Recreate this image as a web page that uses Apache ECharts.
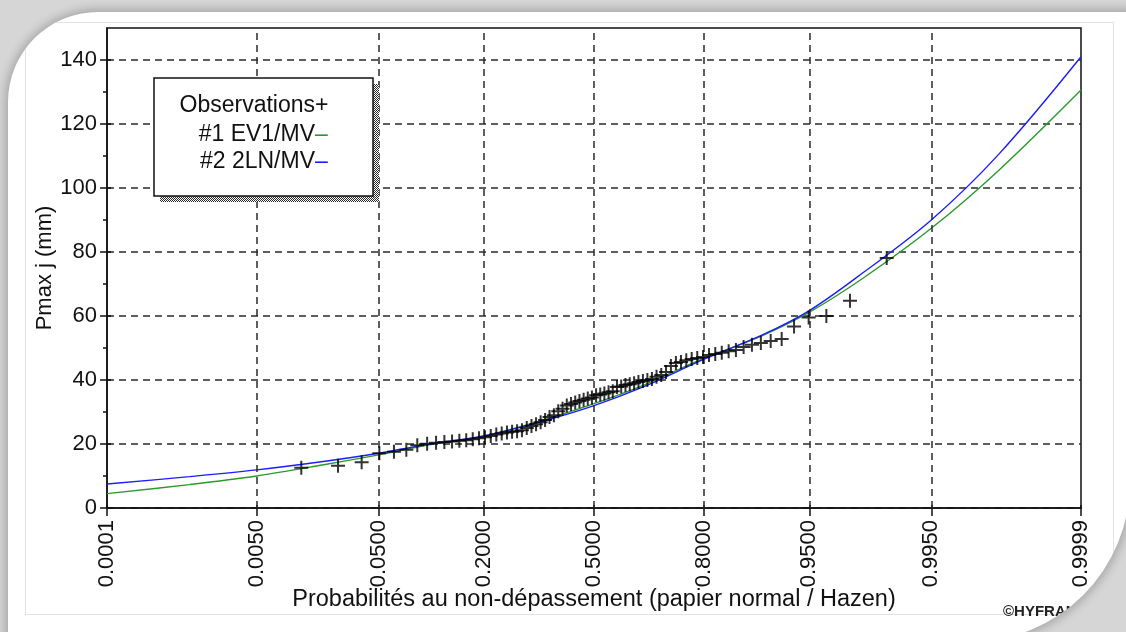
<!DOCTYPE html>
<html>
<head>
<meta charset="utf-8">
<script src="https://cdn.jsdelivr.net/npm/echarts@6/dist/echarts.min.js"></script>
<style>
  html, body { margin: 0; padding: 0; width: 1126px; height: 632px; overflow: hidden; background: #d6d6d6; }
  #card { position: absolute; left: 8px; top: 12px; width: 1122px; height: 630px; background: #fff;
          border-radius: 90px 0 160px 0; box-shadow: 0 0 10px 3px rgba(0,0,0,0.22); overflow: hidden; }
  #frame { position: absolute; left: 17px; top: 10px; width: 1087px; height: 591px; border: 1px solid #e2e2e2; }
  #chart { position: absolute; left: -8px; top: -12px; width: 1126px; height: 632px; }
</style>
</head>
<body>
<div id="card"><div id="frame"></div><div id="chart"></div></div>
<script>
// Probability ticks on the normal-paper axis
const tickProbs = [0.0001, 0.005, 0.05, 0.2, 0.5, 0.8, 0.95, 0.995, 0.9999];
const yTicks = [0, 20, 40, 60, 80, 100, 120, 140];
const yMinorTicks = [10, 30, 50, 70, 90, 110, 130];

// Observed annual maxima (mm), sorted, with their non-exceedance frequencies
const obsFreq = [
  0.0127, 0.0253, 0.0380, 0.0506, 0.0633, 0.0759, 0.0886, 0.1013, 0.1139, 0.1266,
  0.1392, 0.1519, 0.1646, 0.1772, 0.1899, 0.2025, 0.2152, 0.2278, 0.2405, 0.2532,
  0.2658, 0.2785, 0.2911, 0.3038, 0.3165, 0.3291, 0.3418, 0.3544, 0.3671, 0.3797,
  0.3924, 0.4051, 0.4177, 0.4304, 0.4430, 0.4557, 0.4684, 0.4810, 0.4937, 0.5063,
  0.5190, 0.5316, 0.5443, 0.5570, 0.5696, 0.5823, 0.5949, 0.6076, 0.6203, 0.6329,
  0.6456, 0.6582, 0.6709, 0.6835, 0.6962, 0.7089, 0.7215, 0.7342, 0.7468, 0.7595,
  0.7722, 0.7848, 0.7975, 0.8101, 0.8228, 0.8354, 0.8481, 0.8608, 0.8734, 0.8861,
  0.8987, 0.9114, 0.9241, 0.9367, 0.9494, 0.9620, 0.9747, 0.9873
];
const obsPmax = [
  12.6, 13.2, 14.3, 17.1, 17.6, 18.2, 19.6, 20.1, 20.4, 20.6,
  20.8, 21.0, 21.2, 21.5, 21.8, 22.1, 22.5, 23.0, 23.3, 23.6,
  23.8, 24.0, 24.3, 25.0, 25.6, 26.2, 26.8, 27.5, 28.4, 29.0,
  30.2, 31.0, 32.0, 32.5, 33.0, 33.4, 33.8, 34.2, 34.5, 35.2,
  35.5, 35.8, 36.2, 36.5, 37.8, 38.0, 38.4, 38.7, 39.0, 39.4,
  39.7, 40.0, 40.3, 41.0, 41.6, 42.5, 44.4, 45.3, 45.6, 46.2,
  46.6, 46.9, 47.2, 47.8, 48.1, 48.5, 49.0, 49.4, 50.3, 51.0,
  51.6, 52.2, 52.8, 56.7, 59.5, 60.0, 64.8, 78.1
];

// Fitted quantile curves
const curveFreq = [0.0001, 0.001, 0.005, 0.02, 0.05, 0.1, 0.2, 0.35, 0.5, 0.65, 0.8, 0.9, 0.95, 0.98, 0.995, 0.999, 0.9999];
const ev1Mv  = [4.5, 7.3, 10.0, 13.6, 16.6, 19.6, 22.5, 27.5, 32.6, 38.5, 46.8, 53.8, 61.2, 71.8, 87.4, 105.5, 130.6];
const ln2Mv  = [7.5, 9.8, 11.9, 14.6, 17.1, 19.8, 22.5, 27.2, 32.0, 38.0, 46.5, 54.0, 61.7, 73.5, 90.0, 110.5, 141.0];

// Inverse of the standard normal CDF (Acklam), used for the normal-paper abscissa
function probit(p) {
  const a = [-3.969683028665376e+01, 2.209460984245205e+02, -2.759285104469687e+02, 1.383577518672690e+02, -3.066479806614716e+01, 2.506628277459239e+00];
  const b = [-5.447609879822406e+01, 1.615858368580409e+02, -1.556989798598866e+02, 6.680131188771972e+01, -1.328068155288572e+01];
  const c = [-7.784894002430293e-03, -3.223964580411365e-01, -2.400758277161838e+00, -2.549732539343734e+00, 4.374664141464968e+00, 2.938163982698783e+00];
  const d = [7.784695709041462e-03, 3.224671290700398e-01, 2.445134137142996e+00, 3.754408661907416e+00];
  const pl = 0.02425, ph = 1 - pl;
  let q, r;
  if (p < pl) {
    q = Math.sqrt(-2 * Math.log(p));
    return (((((c[0]*q+c[1])*q+c[2])*q+c[3])*q+c[4])*q+c[5]) / ((((d[0]*q+d[1])*q+d[2])*q+d[3])*q+1);
  }
  if (p > ph) {
    q = Math.sqrt(-2 * Math.log(1 - p));
    return -(((((c[0]*q+c[1])*q+c[2])*q+c[3])*q+c[4])*q+c[5]) / ((((d[0]*q+d[1])*q+d[2])*q+d[3])*q+1);
  }
  q = p - 0.5; r = q * q;
  return (((((a[0]*r+a[1])*r+a[2])*r+a[3])*r+a[4])*r+a[5])*q / (((((b[0]*r+b[1])*r+b[2])*r+b[3])*r+b[4])*r+1);
}

const FONT = "'Liberation Sans', Arial, sans-serif";
const tickZ = tickProbs.map(probit);
const zMin = tickZ[0], zMax = tickZ[tickZ.length - 1];
const innerTickZ = tickZ.slice(1, -1);

function probLabel(v) {
  for (let i = 0; i < tickZ.length; i++) {
    if (Math.abs(tickZ[i] - v) < 1e-6) return tickProbs[i].toFixed(4);
  }
  return '';
}

// Dithered shadow for the legend box
const dither = document.createElement('canvas');
dither.width = 2; dither.height = 2;
const dctx = dither.getContext('2d');
dctx.fillStyle = '#ffffff'; dctx.fillRect(0, 0, 2, 2);
dctx.fillStyle = '#2a2a2a'; dctx.fillRect(0, 0, 1, 1); dctx.fillRect(1, 1, 1, 1);

const plusPath = 'path://M0,12H28V16H0Z M12,0H16V28H12Z';
const gridDash = { color: '#2a2a2a', width: 1.5, type: [7, 5] };
const tickStyle = { color: '#111', width: 1.5 };

const chart = echarts.init(document.getElementById('chart'), null, { renderer: 'canvas' });
chart.setOption({
  animation: false,
  backgroundColor: 'transparent',
  textStyle: { fontFamily: FONT },
  grid: {
    left: 107, right: 45, top: 28, bottom: 124, containLabel: false,
    show: true, borderColor: '#111', borderWidth: 1.5, backgroundColor: 'transparent'
  },
  xAxis: [
    {
      type: 'value', min: zMin, max: zMax, position: 'bottom',
      name: 'Probabilités au non-dépassement (papier normal / Hazen)',
      nameLocation: 'middle', nameGap: 80, nameMoveOverlap: false,
      nameTextStyle: { fontSize: 23.5, color: '#111', fontFamily: FONT },
      axisLine: { show: true, onZero: false, lineStyle: tickStyle },
      axisTick: { show: true, customValues: tickZ, length: 8, lineStyle: tickStyle },
      axisLabel: {
        customValues: tickZ, rotate: 90, margin: 12, fontSize: 22, color: '#111', fontFamily: FONT,
        formatter: probLabel, showMinLabel: true, showMaxLabel: true
      },
      splitLine: { show: false }
    },
    {
      type: 'value', min: zMin, max: zMax, position: 'bottom',
      axisLine: { show: false, onZero: false },
      axisTick: { show: true, inside: true, customValues: tickZ, length: 3, lineStyle: tickStyle },
      axisLabel: { show: false },
      splitLine: { show: false }
    }
  ],
  yAxis: [
    {
      type: 'value', min: 0, max: 150, interval: 20, position: 'left',
      name: 'Pmax j (mm)', nameLocation: 'middle', nameGap: 51, nameRotate: 90, nameMoveOverlap: false,
      nameTextStyle: { fontSize: 22, color: '#111', fontFamily: FONT },
      axisLine: { show: true, onZero: false, lineStyle: tickStyle },
      axisTick: { show: true, customValues: yTicks, length: 7, lineStyle: tickStyle },
      axisLabel: { customValues: yTicks, margin: 10, fontSize: 22, color: '#111', fontFamily: FONT },
      splitLine: { show: true, lineStyle: gridDash }
    },
    {
      type: 'value', min: 0, max: 150, interval: 10, position: 'left',
      axisLine: { show: false, onZero: false },
      axisTick: { show: true, customValues: yMinorTicks, length: 4, lineStyle: tickStyle },
      axisLabel: { show: false },
      splitLine: { show: false }
    },
    {
      type: 'value', min: 0, max: 150, interval: 20, position: 'left',
      axisLine: { show: false, onZero: false },
      axisTick: { show: true, inside: true, customValues: yTicks, length: 4, lineStyle: tickStyle },
      axisLabel: { show: false },
      splitLine: { show: false }
    }
  ],
  graphic: [
    { type: 'rect', shape: { x: 160, y: 84, width: 219, height: 118 }, style: { fill: { image: dither, repeat: 'repeat' } }, z: 20 },
    { type: 'rect', shape: { x: 154, y: 78, width: 219, height: 118 }, style: { fill: '#fff', stroke: '#111', lineWidth: 1.5 }, z: 21 },
    { type: 'text', x: 315, y: 106, style: { text: 'Observations', font: '23px ' + FONT, fill: '#111', align: 'right', verticalAlign: 'middle' }, z: 22 },
    { type: 'text', x: 315, y: 106, style: { text: '+', font: '23px ' + FONT, fill: '#111', align: 'left', verticalAlign: 'middle' }, z: 22 },
    { type: 'text', x: 315, y: 135, style: { text: '#1 EV1/MV', font: '23px ' + FONT, fill: '#111', align: 'right', verticalAlign: 'middle' }, z: 22 },
    { type: 'text', x: 315, y: 135, style: { text: '–', font: '23px ' + FONT, fill: '#2a9a2a', align: 'left', verticalAlign: 'middle' }, z: 22 },
    { type: 'text', x: 315, y: 162, style: { text: '#2 2LN/MV', font: '23px ' + FONT, fill: '#111', align: 'right', verticalAlign: 'middle' }, z: 22 },
    { type: 'text', x: 315, y: 162, style: { text: '–', font: '23px ' + FONT, fill: '#1c1cff', align: 'left', verticalAlign: 'middle' }, z: 22 },
    { type: 'text', x: 1003, y: 612, style: { text: '©HYFRAN', font: 'bold 15px ' + FONT, fill: '#222', align: 'left', verticalAlign: 'middle' }, z: 22 }
  ],
  series: [
    {
      type: 'line', name: 'grid', data: [], z: 1, silent: true,
      markLine: {
        silent: true, symbol: ['none', 'none'], label: { show: false },
        lineStyle: gridDash, emphasis: { disabled: true },
        data: innerTickZ.map(z => [{ coord: [z, 0] }, { coord: [z, 150] }])
      }
    },
    {
      type: 'line', name: '#1 EV1/MV', z: 3, smooth: 0.35, showSymbol: false, silent: true,
      data: curveFreq.map((p, i) => [probit(p), ev1Mv[i]]),
      lineStyle: { color: '#2a9a2a', width: 1.4 }
    },
    {
      type: 'line', name: '#2 2LN/MV', z: 4, smooth: 0.35, showSymbol: false, silent: true,
      data: curveFreq.map((p, i) => [probit(p), ln2Mv[i]]),
      lineStyle: { color: '#1c1cff', width: 1.4 }
    },
    {
      type: 'scatter', name: 'Observations', z: 5, silent: true,
      data: obsFreq.map((p, i) => [probit(p), obsPmax[i]]),
      symbol: plusPath, symbolSize: 14,
      itemStyle: { color: '#000' }
    }
  ]
});
</script>
</body>
</html>
